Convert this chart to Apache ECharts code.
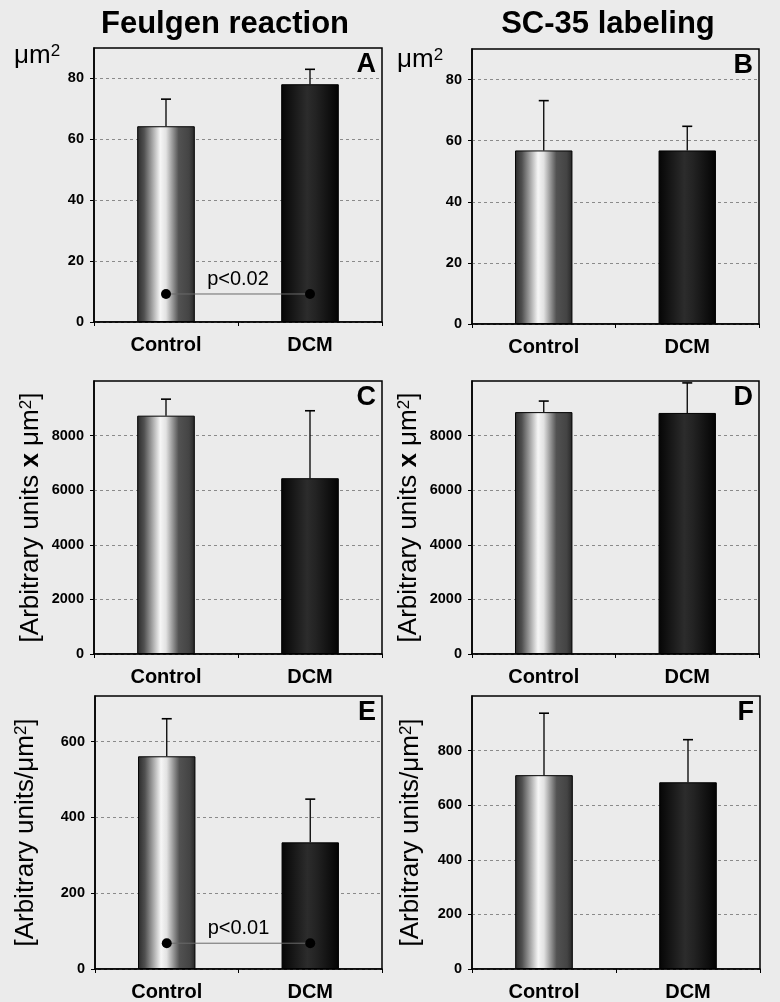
<!DOCTYPE html>
<html><head><meta charset="utf-8">
<script src="https://cdn.jsdelivr.net/npm/echarts@6/dist/echarts.min.js"></script>
<style>html,body{margin:0;padding:0;background:#ebebeb}#c{width:780px;height:1002px}</style>
</head><body><div id="c"></div>
<script>
// ---- data ----
const categories = ['Control', 'DCM'];
const meanA = [64.3, 78.1];   const errA = [8.9, 4.9];
const meanB = [56.8, 56.8];   const errB = [16.3, 7.9];
const meanC = [8730, 6440];   const errC = [605, 2470];
const meanD = [8860, 8830];   const errD = [405, 1100];
const meanE = [561, 334];     const errE = [99, 114];
const meanF = [710, 684];     const errF = [227, 156];
const yMax  = [90, 90, 10000, 10000, 720, 1000];
const yStep = [20, 20, 2000, 2000, 200, 200];
const pA = { y: 9.2, text: 'p<0.02' };
const pE = { y: 68, text: 'p<0.01' };
const columnTitles = ['Feulgen reaction', 'SC-35 labeling'];
const panelLetters = ['A', 'B', 'C', 'D', 'E', 'F'];
const yNames = ['', '', '[Arbitrary units {b|x} μm{s|2}]', '[Arbitrary units {b|x} μm{s|2}]',
                '[Arbitrary units/μm{s|2}]', '[Arbitrary units/μm{s|2}]'];

const means = [meanA, meanB, meanC, meanD, meanE, meanF];
const errs  = [errA, errB, errC, errD, errE, errF];
const pvals = [pA, null, null, null, pE, null];

// ---- layout ----
const FF = '"Liberation Sans", Arial, sans-serif';
const grids = [
  { left: 94,  top: 48,  width: 288, height: 274 },
  { left: 472, top: 49,  width: 287, height: 275 },
  { left: 94,  top: 381, width: 288, height: 273 },
  { left: 472, top: 381, width: 287, height: 273 },
  { left: 95,  top: 696, width: 287, height: 273 },
  { left: 472, top: 696, width: 288, height: 273 }
];
const nameGaps = [0, 0, 50, 50, 56, 48];

const lightGrad = { type: 'linear', x: 0, y: 0, x2: 1, y2: 0, colorStops: [
  { offset: 0, color: '#2a2a2a' }, { offset: 0.12, color: '#505050' },
  { offset: 0.4, color: '#f6f6f6' }, { offset: 0.5, color: '#e2e2e2' },
  { offset: 0.72, color: '#525252' }, { offset: 0.9, color: '#444' },
  { offset: 1, color: '#262626' } ] };
const darkGrad = { type: 'linear', x: 0, y: 0, x2: 1, y2: 0, colorStops: [
  { offset: 0, color: '#050505' }, { offset: 0.45, color: '#2c2c2c' },
  { offset: 0.6, color: '#232323' }, { offset: 1, color: '#030303' } ] };

const option = {
  backgroundColor: '#ebebeb',
  animation: false,
  grid: grids.map(g => Object.assign({ show: true, borderColor: '#000', borderWidth: 1.5, backgroundColor: 'transparent' }, g)),
  xAxis: grids.map((g, i) => ({
    type: 'category', gridIndex: i, data: categories,
    axisLine: { lineStyle: { color: '#000', width: 1.5 } },
    axisTick: { show: true, length: 4, lineStyle: { color: '#000' } },
    axisLabel: { fontFamily: FF, fontWeight: 'bold', fontSize: 20, color: '#000', margin: 13 },
    splitLine: { show: false }
  })),
  yAxis: grids.map((g, i) => ({
    type: 'value', gridIndex: i, min: 0, max: yMax[i], interval: yStep[i],
    axisLine: { show: true, lineStyle: { color: '#000', width: 1.5 } },
    axisTick: { show: true, length: 4, lineStyle: { color: '#000' } },
    axisLabel: { fontFamily: FF, fontWeight: 'bold', fontSize: 14.5, color: '#000', margin: 10,
                 showMaxLabel: false, formatter: v => String(v) },
    splitLine: { show: true, showMaxLine: false, lineStyle: { color: '#8a8a8a', type: [3, 3], width: 1 } },
    name: yNames[i], nameLocation: 'middle', nameGap: nameGaps[i], nameRotate: 90,
    nameTextStyle: { fontFamily: FF, fontSize: 26, color: '#000',
      rich: { b: { fontFamily: FF, fontSize: 26, fontWeight: 'bold', color: '#000' },
              s: { fontFamily: FF, fontSize: 17, color: '#000', verticalAlign: 'top' } } }
  })),
  series: [],
  graphic: []
};

grids.forEach((g, i) => {
  option.series.push({
    type: 'bar', xAxisIndex: i, yAxisIndex: i, barWidth: '40%',
    data: means[i].map((v, k) => ({ value: v, itemStyle: { color: k === 0 ? lightGrad : darkGrad } })),
    itemStyle: { borderColor: '#000', borderWidth: 1 }, z: 2
  });
  option.series.push({
    type: 'custom', xAxisIndex: i, yAxisIndex: i, z: 3,
    data: means[i].map((v, k) => [k, v, v + errs[i][k]]),
    renderItem(params, api) {
      const x = api.value(0);
      const p0 = api.coord([x, api.value(1)]);
      const p1 = api.coord([x, api.value(2)]);
      return { type: 'group', children: [
        { type: 'line', shape: { x1: p0[0], y1: p0[1], x2: p1[0], y2: p1[1] }, style: { stroke: '#000', lineWidth: 1.3 } },
        { type: 'line', shape: { x1: p1[0] - 5, y1: p1[1], x2: p1[0] + 5, y2: p1[1] }, style: { stroke: '#000', lineWidth: 1.6 } }
      ] };
    }
  });
  const p = pvals[i];
  if (p) {
    option.series.push({
      type: 'custom', xAxisIndex: i, yAxisIndex: i, z: 5,
      data: [[0, p.y, 1]],
      renderItem(params, api) {
        const a = api.coord([api.value(0), api.value(1)]);
        const b = api.coord([api.value(2), api.value(1)]);
        return { type: 'group', children: [
          { type: 'line', shape: { x1: a[0], y1: a[1], x2: b[0], y2: b[1] }, style: { stroke: '#6a6a6a', lineWidth: 1 } },
          { type: 'circle', shape: { cx: a[0], cy: a[1], r: 5 }, style: { fill: '#000' } },
          { type: 'circle', shape: { cx: b[0], cy: b[1], r: 5 }, style: { fill: '#000' } },
          { type: 'text', x: (a[0] + b[0]) / 2, y: a[1] - 5,
            style: { text: p.text, font: '20px ' + FF, fill: '#000', align: 'center', verticalAlign: 'bottom' } }
        ] };
      }
    });
  }
  option.graphic.push({
    type: 'text', x: g.left + g.width - 6, y: g.top + 3, z: 10,
    style: { text: panelLetters[i], font: 'bold 27px ' + FF, fill: '#000', align: 'right', verticalAlign: 'top' }
  });
});

// column titles
option.graphic.push({ type: 'text', x: 225, y: 9, style: { text: columnTitles[0], font: 'bold 31px ' + FF, fill: '#000', align: 'center', verticalAlign: 'top' } });
option.graphic.push({ type: 'text', x: 608, y: 9, style: { text: columnTitles[1], font: 'bold 31px ' + FF, fill: '#000', align: 'center', verticalAlign: 'top' } });
// µm² unit labels for A and B
const unitStyle = (x, y) => ({ type: 'text', x: x, y: y, style: {
  text: 'μm{s|2}', font: '26px ' + FF, fill: '#000', align: 'left', verticalAlign: 'top',
  rich: { s: { fontFamily: FF, fontSize: 17, fill: '#000', verticalAlign: 'top' } } } });
option.graphic.push(unitStyle(14, 43));
option.graphic.push(unitStyle(397, 47));

const chart = echarts.init(document.getElementById('c'), null, { renderer: 'canvas' });
chart.setOption(option);
</script>
</body></html>
